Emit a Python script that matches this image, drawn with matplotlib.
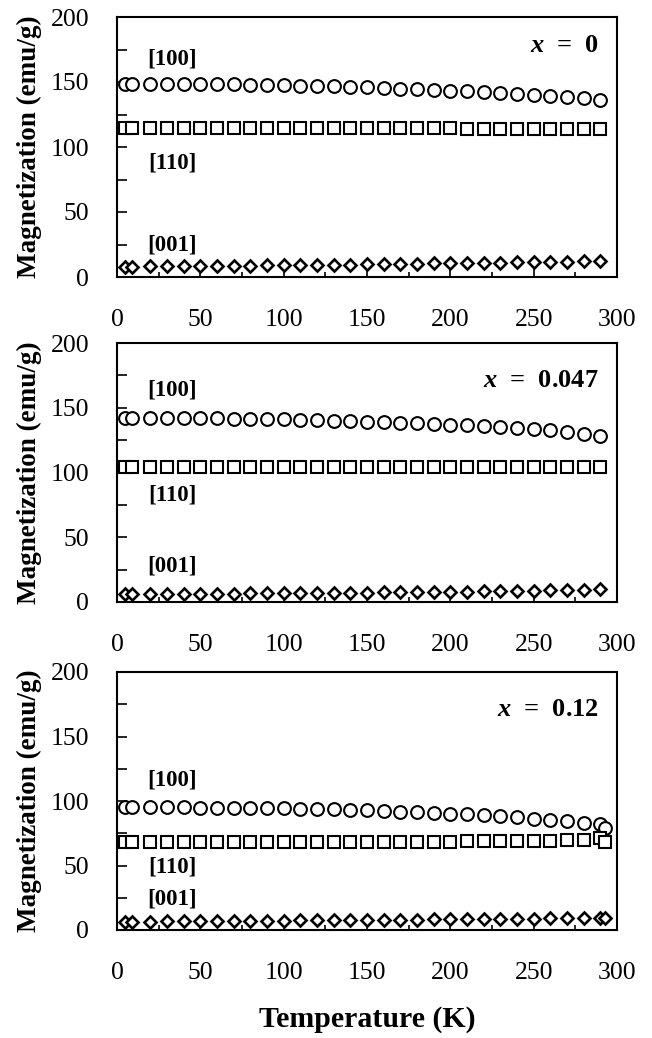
import matplotlib
matplotlib.use("Agg")
import matplotlib.pyplot as plt
from matplotlib.ticker import MultipleLocator

plt.rcParams['font.family'] = ['Liberation Serif', 'DejaVu Serif']
plt.rcParams['mathtext.fontset'] = 'custom'
plt.rcParams['mathtext.it'] = 'Liberation Serif:italic:bold'
plt.rcParams['mathtext.rm'] = 'Liberation Serif:bold'

# Temperatures (K)
T_std = [5, 9, 20, 30, 40, 50, 60, 70, 80, 90, 100, 110, 120, 130, 140, 150,
         160, 170, 180, 190, 200, 210, 220, 230, 240, 250, 260, 270, 280, 290]
T_x012 = T_std + [293]

# x = 0
m100_x0 = [148.5, 148.5, 148.6, 148.6, 148.5, 148.4, 148.3, 148.2, 148.0, 147.8,
           147.6, 147.3, 147.0, 146.6, 146.2, 145.8, 145.3, 144.8, 144.3, 143.8,
           143.3, 142.7, 142.1, 141.5, 140.8, 140.1, 139.3, 138.4, 137.4, 136.3]
m110_x0 = [114.5, 114.5, 114.6, 114.6, 114.6, 114.6, 114.6, 114.5, 114.5, 114.5,
           114.5, 114.5, 114.5, 114.4, 114.4, 114.4, 114.4, 114.3, 114.3, 114.3,
           114.3, 114.2, 114.2, 114.2, 114.1, 114.1, 114.1, 114.0, 114.0, 114.0]
m001_x0 = [8.0, 8.0, 8.1, 8.2, 8.3, 8.4, 8.5, 8.6, 8.8, 8.9,
           9.0, 9.2, 9.3, 9.5, 9.6, 9.8, 9.9, 10.1, 10.2, 10.4,
           10.6, 10.8, 10.9, 11.1, 11.3, 11.5, 11.7, 11.9, 12.1, 12.4]

# x = 0.047
m100_x0047 = [142.0, 142.0, 142.0, 142.0, 141.9, 141.8, 141.7, 141.6, 141.4, 141.2,
              141.0, 140.7, 140.4, 140.1, 139.7, 139.3, 138.9, 138.5, 138.0, 137.5,
              137.0, 136.4, 135.8, 135.2, 134.5, 133.8, 133.0, 131.5, 130.0, 128.3]
m110_x0047 = [104.5, 104.5, 104.6, 104.6, 104.6, 104.6, 104.6, 104.6, 104.5, 104.5,
              104.5, 104.5, 104.5, 104.5, 104.5, 104.4, 104.4, 104.4, 104.4, 104.4,
              104.4, 104.3, 104.3, 104.3, 104.3, 104.3, 104.3, 104.2, 104.2, 104.2]
m001_x0047 = [6.0, 6.0, 6.0, 6.1, 6.2, 6.3, 6.4, 6.5, 6.6, 6.7,
              6.8, 6.9, 7.0, 7.1, 7.2, 7.3, 7.4, 7.5, 7.7, 7.8,
              7.9, 8.1, 8.2, 8.4, 8.6, 8.8, 9.0, 9.3, 9.6, 10.2]

# x = 0.12
m100_x012 = [95.0, 95.0, 95.0, 95.0, 95.0, 94.8, 94.7, 94.6, 94.5, 94.4,
             94.3, 94.1, 93.8, 93.5, 93.1, 92.7, 92.3, 91.8, 91.3, 90.8,
             90.2, 89.6, 88.9, 88.1, 87.3, 86.4, 85.5, 84.5, 83.3, 82.0, 79.0]
m110_x012 = [68.4, 68.4, 68.4, 68.4, 68.4, 68.4, 68.4, 68.4, 68.4, 68.4,
             68.4, 68.4, 68.4, 68.4, 68.4, 68.4, 68.4, 68.4, 68.4, 68.5,
             68.6, 68.7, 68.8, 68.9, 69.0, 69.1, 69.2, 69.4, 69.6, 71.0, 68.0]
m001_x012 = [6.4, 6.4, 6.5, 6.6, 6.7, 6.8, 6.9, 7.0, 7.1, 7.2,
             7.3, 7.4, 7.5, 7.6, 7.7, 7.8, 7.9, 8.0, 8.1, 8.2,
             8.3, 8.4, 8.5, 8.6, 8.8, 8.9, 9.0, 9.1, 9.3, 9.5, 9.5]

compositions = ["0", "0.047", "0.12"]
temps = [T_std, T_std, T_x012]
series = [(m100_x0, m110_x0, m001_x0),
          (m100_x0047, m110_x0047, m001_x0047),
          (m100_x012, m110_x012, m001_x012)]
# label anchor heights (emu/g) for [100], [110], [001]
label_y = [(168, 88, 25), (164, 83, 28), (116, 49, 24)]
comp_label_y = [178, 171, 171]

fig = plt.figure(figsize=(6.52, 10.38), dpi=100)
W, H = 652, 1038
boxes = [(17, 277), (343, 602), (672, 930)]
left_px, right_px = 117, 617

mk = dict(linestyle='none', mfc='white', mec='black')

for i, (top, bot) in enumerate(boxes):
    ax = fig.add_axes([left_px / W, 1 - bot / H, (right_px - left_px) / W, (bot - top) / H])
    T = temps[i]
    m100, m110, m001 = series[i]
    ax.plot(T, m100, marker='o', ms=9.2, mew=1.5, **mk, zorder=3)
    ax.plot(T, m110, marker='s', ms=8.6, mew=1.5, **mk, zorder=3)
    ax.plot(T, m001, marker='D', ms=6.2, mew=1.9, **mk, zorder=3)

    ax.set_xlim(0, 300)
    ax.set_ylim(0, 200)
    ax.xaxis.set_major_locator(MultipleLocator(50))
    ax.xaxis.set_minor_locator(MultipleLocator(25))
    ax.yaxis.set_major_locator(MultipleLocator(50))
    ax.yaxis.set_minor_locator(MultipleLocator(25))
    ax.tick_params(axis='x', which='major', direction='in', length=7, width=1.2,
                   labelsize=18.5, pad=23, top=False)
    ax.tick_params(axis='x', which='minor', direction='in', length=3.5, width=1.2, top=False)
    ax.tick_params(axis='y', which='both', direction='in', length=7, width=1.2,
                   labelsize=18.5, pad=20, right=False)
    for s in ax.spines.values():
        s.set_linewidth(1.5)

    ax.set_ylabel('Magnetization (emu/g)', fontsize=19.5, fontweight='bold')
    ax.yaxis.set_label_coords(-0.15, 0.5)

    ly = label_y[i]
    for txt, yv in zip(['[100]', '[110]', '[001]'], ly):
        ax.text(33, yv, txt, fontsize=16.5, fontweight='bold', ha='center', va='center')
    ax.text(289, comp_label_y[i], r'$x$  =  ' + compositions[i], fontsize=19,
            fontweight='bold', ha='right', va='center')

    if i == 2:
        ax.set_xlabel('Temperature (K)', fontsize=21.5, fontweight='bold', labelpad=16)

fig.savefig('out.png', dpi=100)
